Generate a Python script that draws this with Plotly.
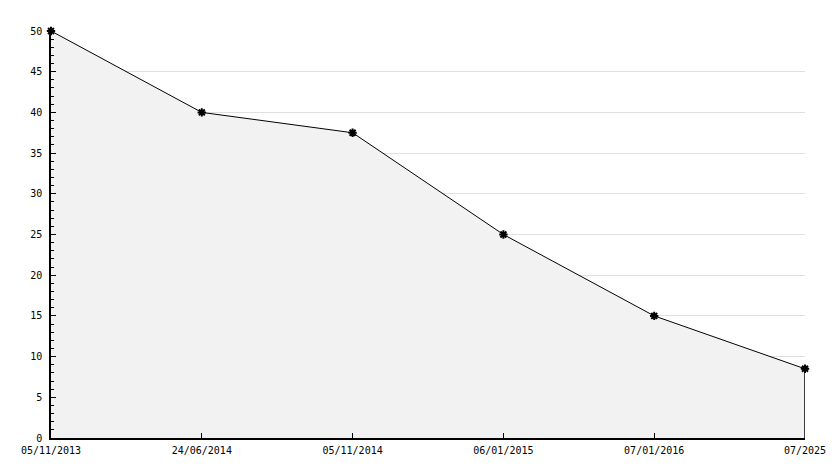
import plotly.graph_objects as go

dates = ["05/11/2013", "24/06/2014", "05/11/2014", "06/01/2015", "07/01/2016", "07/2025"]
values = [50, 40, 37.5, 25, 15, 8.5]
y_ticks = [0, 5, 10, 15, 20, 25, 30, 35, 40, 45, 50]

font = dict(family="DejaVu Sans Mono", size=10, color="#000000")

fig = go.Figure()
fig.add_trace(go.Scatter(
    x=dates, y=values, mode="lines",
    fill="tozeroy", fillcolor="#f2f2f2",
    line=dict(color="#000000", width=1),
    hoverinfo="x+y", showlegend=False,
))
fig.add_trace(go.Scatter(
    x=[dates[-1], dates[-1]], y=[values[-1], 0], mode="lines",
    line=dict(color="#000000", width=1.5), hoverinfo="skip", showlegend=False,
))
fig.add_trace(go.Scatter(
    x=dates, y=values, mode="markers", cliponaxis=False,
    marker=dict(symbol="asterisk-open", size=7, color="#000000",
                line=dict(color="#000000", width=2)),
    hoverinfo="skip", showlegend=False,
))
fig.add_trace(go.Scatter(
    x=dates, y=values, mode="markers", cliponaxis=False,
    marker=dict(symbol="circle", size=5, color="#000000"),
    hoverinfo="skip", showlegend=False,
))

fig.update_layout(
    width=834, height=468,
    margin=dict(l=51, r=29, t=31, b=30),
    paper_bgcolor="#ffffff", plot_bgcolor="#ffffff",
    font=font,
    xaxis=dict(
        type="category", range=[0, len(dates) - 1], automargin=False,
        showgrid=False, zeroline=False,
        showline=True, linecolor="#000000", linewidth=1.5,
        ticks="inside", ticklen=5, tickcolor="#000000",
        tickfont=font, ticklabelstandoff=2,
    ),
    yaxis=dict(
        range=[0, 50], tickvals=y_ticks, automargin=False,
        showgrid=True, gridcolor="#e0e0e0", gridwidth=1,
        zeroline=False,
        showline=True, linecolor="#000000", linewidth=1.5,
        ticks="inside", ticklen=5, tickcolor="#000000",
        minor=dict(dtick=1, ticks="inside", ticklen=3, tickcolor="#000000", showgrid=False),
        tickfont=font, ticklabelstandoff=5,
    ),
)

fig.write_html("out.html", config={"displayModeBar": False},
               post_script="document.body.style.margin='0px';")
